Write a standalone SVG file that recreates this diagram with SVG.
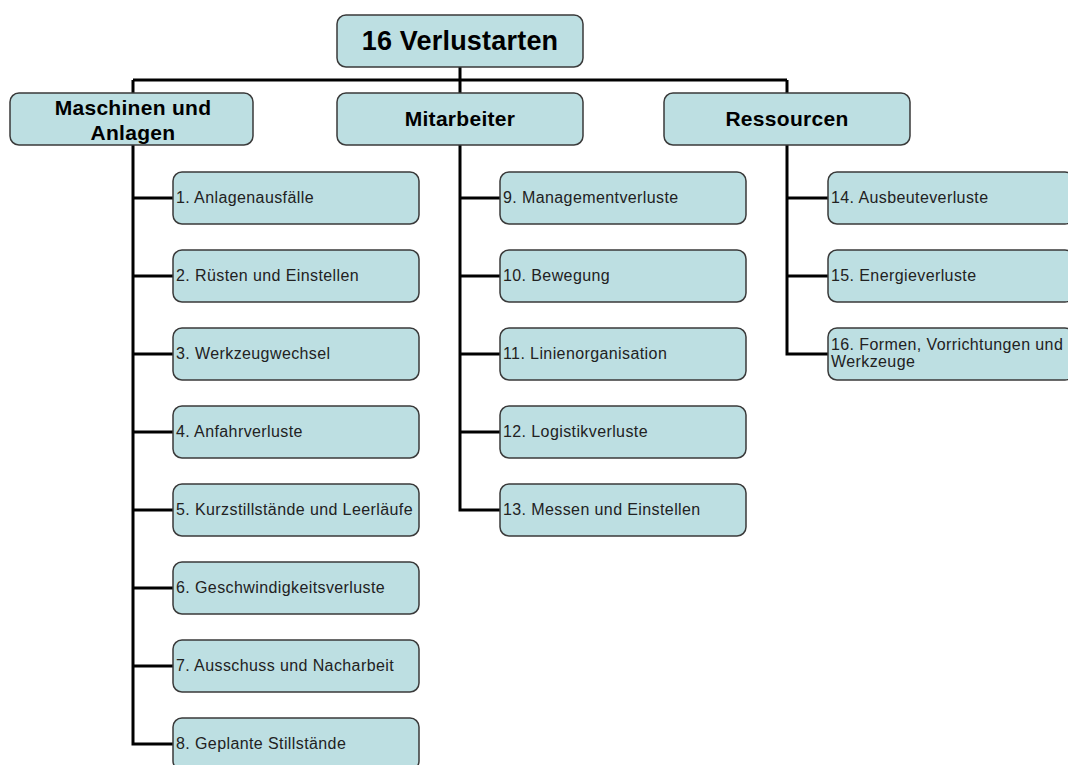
<svg xmlns="http://www.w3.org/2000/svg" width="1068" height="765" viewBox="0 0 1068 765">
  <style>
    .box { fill: #bddfe2; stroke: #3a3a3a; stroke-width: 1.5; }
    .link { fill: none; stroke: #000; stroke-width: 3; stroke-linejoin: miter; }
    .root { font-family: "Liberation Sans", Arial, sans-serif; font-weight: bold; font-size: 27px; letter-spacing: 0.2px; fill: #000; text-anchor: middle; }
    .cat { font-family: "Liberation Sans", Arial, sans-serif; font-weight: bold; font-size: 21px; letter-spacing: 0.3px; fill: #000; text-anchor: middle; }
    .leaf { font-family: "Liberation Sans", Arial, sans-serif; font-size: 16px; letter-spacing: 0.4px; fill: #222; }
  </style>
  <rect width="1068" height="765" fill="#fff"/>

  <!-- connectors -->
  <g id="connectors">
    <path class="link" d="M460 67 V80 M133 80 H787 M133 80 V93 M460 80 V93 M787 80 V93"/>
    <!-- Maschinen und Anlagen -->
    <path class="link" d="M133 145 V744 H173 M133 198 H173 M133 276 H173 M133 354 H173 M133 432 H173 M133 510 H173 M133 588 H173 M133 666 H173"/>
    <!-- Mitarbeiter -->
    <path class="link" d="M460 145 V510 H500 M460 198 H500 M460 276 H500 M460 354 H500 M460 432 H500"/>
    <!-- Ressourcen -->
    <path class="link" d="M787 145 V354 H828 M787 198 H828 M787 276 H828"/>
  </g>

  <g id="root">
    <rect class="box" x="337" y="15" width="246" height="52" rx="9"/>
    <text class="root" x="460" y="50">16 Verlustarten</text>
  </g>

  <g id="cat-maschinen">
    <rect class="box" x="10" y="93" width="243" height="52" rx="9"/>
    <text class="cat" x="133" y="115">Maschinen und</text>
    <text class="cat" x="133" y="140">Anlagen</text>
  </g>
  <g id="cat-mitarbeiter">
    <rect class="box" x="337" y="93" width="246" height="52" rx="9"/>
    <text class="cat" x="460" y="126">Mitarbeiter</text>
  </g>
  <g id="cat-ressourcen">
    <rect class="box" x="664" y="93" width="246" height="52" rx="9"/>
    <text class="cat" x="787" y="126">Ressourcen</text>
  </g>

  <!-- Maschinen und Anlagen leaves -->
  <g id="n1"><rect class="box" x="173" y="172" width="246" height="52" rx="9"/><text class="leaf" x="176" y="203">1. Anlagenausfälle</text></g>
  <g id="n2"><rect class="box" x="173" y="250" width="246" height="52" rx="9"/><text class="leaf" x="176" y="281">2. Rüsten und Einstellen</text></g>
  <g id="n3"><rect class="box" x="173" y="328" width="246" height="52" rx="9"/><text class="leaf" x="176" y="359">3. Werkzeugwechsel</text></g>
  <g id="n4"><rect class="box" x="173" y="406" width="246" height="52" rx="9"/><text class="leaf" x="176" y="437">4. Anfahrverluste</text></g>
  <g id="n5"><rect class="box" x="173" y="484" width="246" height="52" rx="9"/><text class="leaf" x="176" y="515">5. Kurzstillstände und Leerläufe</text></g>
  <g id="n6"><rect class="box" x="173" y="562" width="246" height="52" rx="9"/><text class="leaf" x="176" y="593">6. Geschwindigkeitsverluste</text></g>
  <g id="n7"><rect class="box" x="173" y="640" width="246" height="52" rx="9"/><text class="leaf" x="176" y="671">7. Ausschuss und Nacharbeit</text></g>
  <g id="n8"><rect class="box" x="173" y="718" width="246" height="52" rx="9"/><text class="leaf" x="176" y="749">8. Geplante Stillstände</text></g>

  <!-- Mitarbeiter leaves -->
  <g id="n9"><rect class="box" x="500" y="172" width="246" height="52" rx="9"/><text class="leaf" x="503" y="203">9. Managementverluste</text></g>
  <g id="n10"><rect class="box" x="500" y="250" width="246" height="52" rx="9"/><text class="leaf" x="503" y="281">10. Bewegung</text></g>
  <g id="n11"><rect class="box" x="500" y="328" width="246" height="52" rx="9"/><text class="leaf" x="503" y="359">11. Linienorganisation</text></g>
  <g id="n12"><rect class="box" x="500" y="406" width="246" height="52" rx="9"/><text class="leaf" x="503" y="437">12. Logistikverluste</text></g>
  <g id="n13"><rect class="box" x="500" y="484" width="246" height="52" rx="9"/><text class="leaf" x="503" y="515">13. Messen und Einstellen</text></g>

  <!-- Ressourcen leaves -->
  <g id="n14"><rect class="box" x="828" y="172" width="246" height="52" rx="9"/><text class="leaf" x="831" y="203">14. Ausbeuteverluste</text></g>
  <g id="n15"><rect class="box" x="828" y="250" width="246" height="52" rx="9"/><text class="leaf" x="831" y="281">15. Energieverluste</text></g>
  <g id="n16"><rect class="box" x="828" y="328" width="246" height="52" rx="9"/><text class="leaf" x="831" y="350">16. Formen, Vorrichtungen und</text><text class="leaf" x="831" y="367">Werkzeuge</text></g>
</svg>
